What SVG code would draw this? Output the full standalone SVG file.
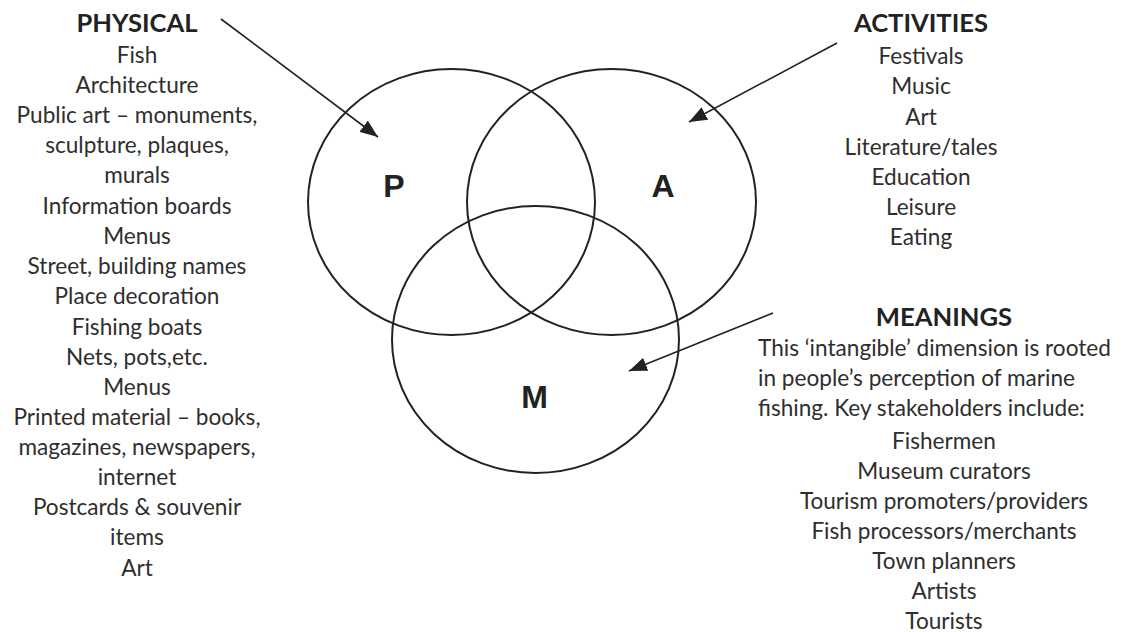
<svg xmlns="http://www.w3.org/2000/svg" width="1126" height="632" viewBox="0 0 1126 632">
<style>
.t{font-family:Lato,"Liberation Sans",sans-serif;font-size:22.6px;fill:#2e2e2e;text-anchor:middle}
.h{font-family:Lato,"Liberation Sans",sans-serif;font-size:25.6px;font-weight:bold;fill:#222;text-anchor:middle}
.l{font-family:"Liberation Sans",Arial,sans-serif;font-size:32px;font-weight:bold;fill:#222;text-anchor:middle}
.c{fill:none;stroke:#222;stroke-width:2}
.a{stroke:#222;stroke-width:1.6;fill:none;marker-end:url(#ah)}
</style>
<defs>
<marker id="ah" markerUnits="userSpaceOnUse" markerWidth="20" markerHeight="14" refX="18" refY="7" orient="auto"><path d="M0,0 L18,7 L0,14 Z" fill="#222"/></marker>
</defs>
<rect width="1126" height="632" fill="#fff"/>
<g id="circle-P"><ellipse class="c" cx="451.5" cy="202" rx="143.5" ry="133"/><text class="l" x="394" y="197">P</text></g>
<g id="circle-A"><ellipse class="c" cx="611.5" cy="202" rx="144.5" ry="133"/><text class="l" x="663" y="197">A</text></g>
<g id="circle-M"><ellipse class="c" cx="535.5" cy="339.5" rx="143.5" ry="133.5"/><text class="l" x="534.5" y="408">M</text></g>
<g id="physical">
<text class="h" x="137" y="32">PHYSICAL</text>
<text class="t" x="137" y="63">Fish</text>
<text class="t" x="137" y="93">Architecture</text>
<text class="t" x="137" y="123">Public art – monuments,</text>
<text class="t" x="137" y="153">sculpture, plaques,</text>
<text class="t" x="137" y="183">murals</text>
<text class="t" x="137" y="214">Information boards</text>
<text class="t" x="137" y="244">Menus</text>
<text class="t" x="137" y="274">Street, building names</text>
<text class="t" x="137" y="304">Place decoration</text>
<text class="t" x="137" y="335">Fishing boats</text>
<text class="t" x="137" y="365">Nets, pots,etc.</text>
<text class="t" x="137" y="395">Menus</text>
<text class="t" x="137" y="425">Printed material – books,</text>
<text class="t" x="137" y="455">magazines, newspapers,</text>
<text class="t" x="137" y="485">internet</text>
<text class="t" x="137" y="515">Postcards &amp; souvenir</text>
<text class="t" x="137" y="545">items</text>
<text class="t" x="137" y="576">Art</text>
</g>
<g id="activities">
<text class="h" x="921" y="32">ACTIVITIES</text>
<text class="t" x="921" y="64">Festivals</text>
<text class="t" x="921" y="94">Music</text>
<text class="t" x="921" y="125">Art</text>
<text class="t" x="921" y="155">Literature/tales</text>
<text class="t" x="921" y="185">Education</text>
<text class="t" x="921" y="215">Leisure</text>
<text class="t" x="921" y="245">Eating</text>
</g>
<g id="meanings">
<text class="h" x="944" y="326">MEANINGS</text>
<text class="t" x="758" y="356" style="text-anchor:start">This ‘intangible’ dimension is rooted</text>
<text class="t" x="758" y="386" style="text-anchor:start">in people’s perception of marine</text>
<text class="t" x="758" y="416" style="text-anchor:start">fishing. Key stakeholders include:</text>
<text class="t" x="944" y="449">Fishermen</text>
<text class="t" x="944" y="479">Museum curators</text>
<text class="t" x="944" y="509">Tourism promoters/providers</text>
<text class="t" x="944" y="539">Fish processors/merchants</text>
<text class="t" x="944" y="569">Town planners</text>
<text class="t" x="944" y="599">Artists</text>
<text class="t" x="944" y="629">Tourists</text>
</g>
<g id="connectors">
<line class="a" x1="221" y1="19" x2="378" y2="137"/>
<line class="a" x1="837" y1="43" x2="689" y2="122"/>
<line class="a" x1="773" y1="313" x2="629" y2="371"/>
</g>
</svg>
